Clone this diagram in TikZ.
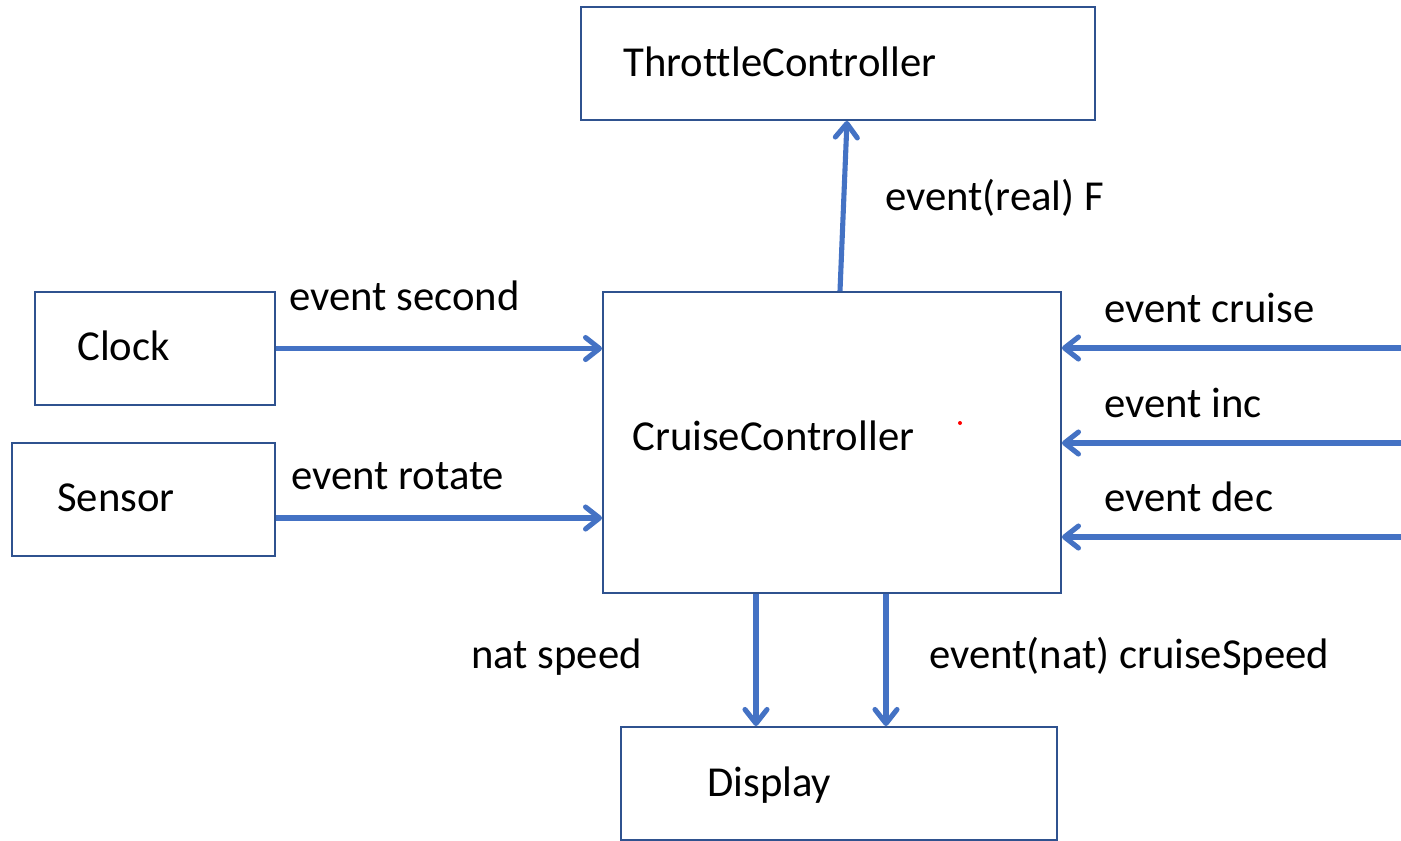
\documentclass[tikz,border=0pt]{standalone}
\usepackage{fontspec}
\setmainfont{Carlito}[Ligatures={NoCommon}]
\usetikzlibrary{arrows.meta, positioning, calc}
\definecolor{boxblue}{RGB}{47,82,143}
\definecolor{flowblue}{RGB}{68,114,196}

\begin{document}
\begin{tikzpicture}[x=0.02cm, y=-0.02cm,
    font=\fontsize{24.3}{29}\selectfont,
    blok/.style={draw=boxblue, line width=1.1pt, minimum height=2.26cm, inner sep=0pt},
    flow/.style={flowblue, line width=2.9pt, -{Straight Barb[length=0.28cm, width=0.44cm, round]}},
    lbl/.style={anchor=base west, inner sep=0pt}]
    \useasboundingbox (0,0) rectangle (1401,840);
    % components
    \node[blok, minimum width=10.28cm] (throttle) at (838,63.5) {};
    \node[blok, minimum width=4.8cm] (clock) at (155,348.5) {};
    \node[blok, minimum width=5.26cm] (sensor) at (143.5,499.5) {};
    \node[blok, minimum width=9.16cm, minimum height=6.02cm] (cruise) at (832,442.5) {};
    \node[blok, minimum width=8.72cm] (display) at (839,783.5) {};
    \node[lbl] (throttlename) at (623,76) {ThrottleController};
    \node[lbl] (clockname) at (77,360) {Clock};
    \node[lbl] (sensorname) at (57,511) {Sensor};
    \node[lbl] (cruisename) at (632,450) {CruiseController};
    \node[lbl] (displayname) at (707,796) {Display};
    \fill[red] (960,423) circle (2);
    % events into the controller
    \draw[flow] (clock.east) -- (clock.east -| cruise.west);
    \draw[flow] ($(sensor.east)+(0,18.5)$) coordinate (rot) -- (rot -| cruise.west);
    \node[lbl] (secondlbl) at (289,310) {event second};
    \node[lbl] (rotatelbl) at (291,489) {event rotate};
    \coordinate (cruiseIn) at (1401,348);
    \coordinate (incIn) at (1401,443);
    \coordinate (decIn) at (1401,537);
    \draw[flow] (cruiseIn) -- (cruiseIn -| cruise.east);
    \draw[flow] (incIn) -- (incIn -| cruise.east);
    \draw[flow] (decIn) -- (decIn -| cruise.east);
    \node[lbl] (cruiselbl) at (1104,322) {event cruise};
    \node[lbl] (inclbl) at (1104,417) {event inc};
    \node[lbl] (declbl) at (1104,511) {event dec};
    % outputs
    \draw[flow] ($(cruise.north)+(8,0)$) -- ($(throttle.south)+(9,0)$);
    \node[lbl] (forcelbl) at (885,210) {event(real) F};
    \draw[flow] ($(cruise.south)+(-76,0)$) -- ($(display.north)+(-83,0)$);
    \draw[flow] ($(cruise.south)+(54,0)$) -- ($(display.north)+(47,0)$);
    \node[lbl] (speedlbl) at (471,668) {nat speed};
    \node[lbl] (setlbl) at (929,668) {event(nat) cruiseSpeed};
\end{tikzpicture}
\end{document}
